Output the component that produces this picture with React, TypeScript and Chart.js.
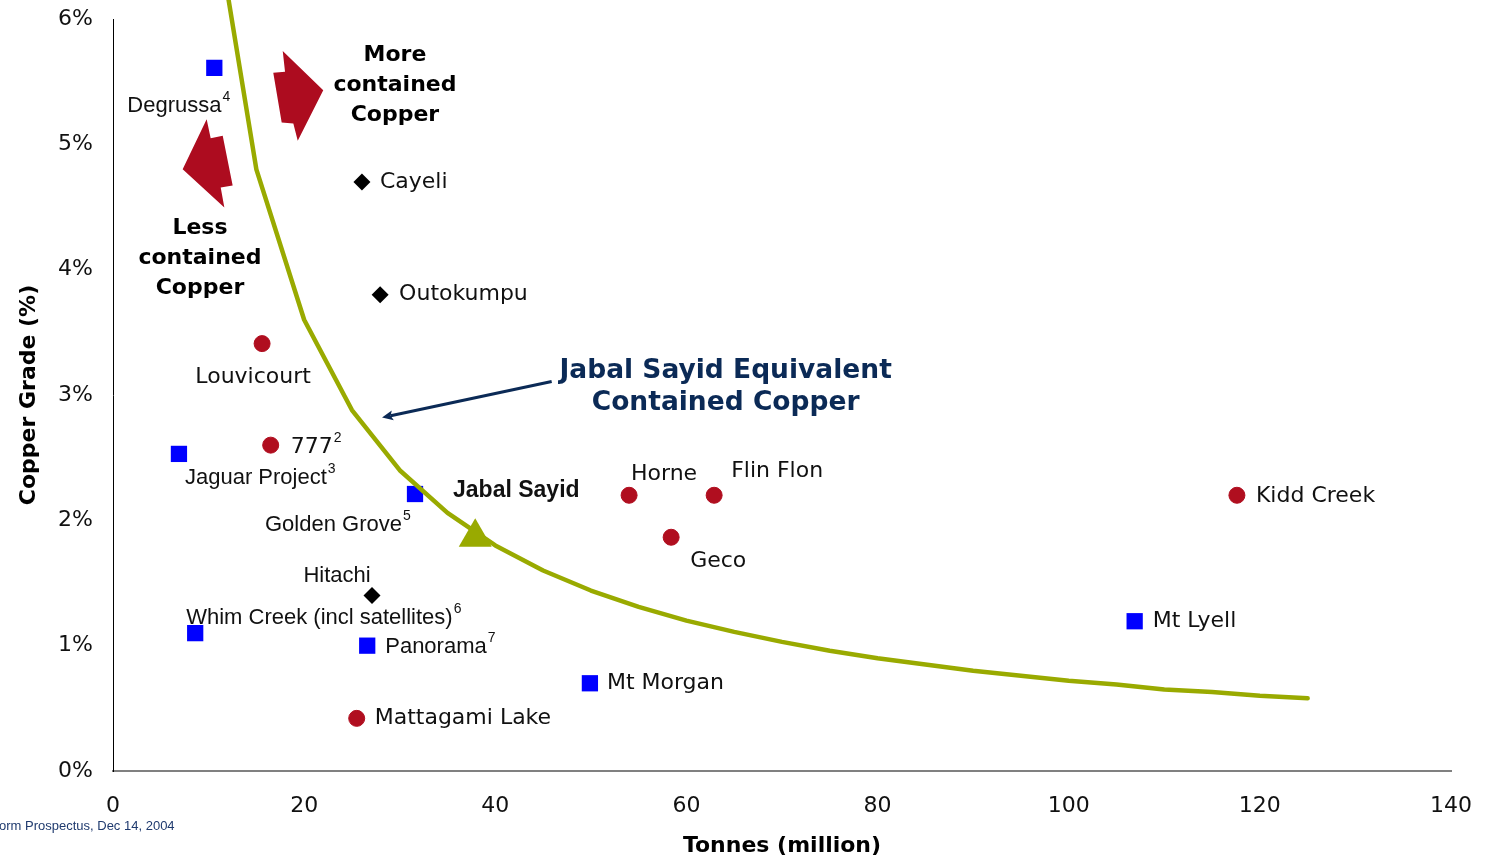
import React, { useEffect, useRef } from 'react';
import { Chart, registerables } from 'chart.js';

Chart.register(...registerables);

// ---------- data ----------
const squareNames = ['Degrussa', 'Jaguar Project', 'Jabal Sayid', 'Whim Creek (incl satellites)', 'Panorama', 'Mt Morgan', 'Mt Lyell'];
const squareTonnes = [10.6, 6.9, 31.6, 8.6, 26.6, 49.9, 106.9];
const squareGrade = [5.61, 2.53, 2.21, 1.10, 1.00, 0.70, 1.195];

const circleNames = ['Louvicourt', '777', 'Horne', 'Flin Flon', 'Geco', 'Kidd Creek', 'Mattagami Lake'];
const circleTonnes = [15.6, 16.5, 54.0, 62.9, 58.4, 117.6, 25.5];
const circleGrade = [3.41, 2.60, 2.20, 2.20, 1.865, 2.20, 0.42];

const diamondNames = ['Cayeli', 'Outokumpu', 'Hitachi'];
const diamondTonnes = [26.05, 27.95, 27.1];
const diamondGrade = [4.70, 3.80, 1.40];

// Jabal Sayid equivalent contained copper curve
const curveTonnes = [12.1, 15, 20, 25, 30, 35, 40, 45, 50, 55, 60, 65, 70, 75, 80, 85, 90, 95, 100, 105, 110, 115, 120, 125];
const curveGrade = [6.15, 4.8, 3.6, 2.88, 2.4, 2.06, 1.8, 1.6, 1.44, 1.31, 1.2, 1.11, 1.03, 0.96, 0.9, 0.85, 0.8, 0.76, 0.72, 0.69, 0.65, 0.63, 0.6, 0.58];

const markerTonnes = [37.9];
const markerGrade = [1.865];

const xTickValues = [0, 20, 40, 60, 80, 100, 120, 140];
const yTickValues = [0, 1, 2, 3, 4, 5, 6];

const xTitle = 'Tonnes (million)';
const yTitle = 'Copper Grade (%)';
const sourceText = 'orm Prospectus, Dec 14, 2004';

const moreText = ['More', 'contained', 'Copper'];
const lessText = ['Less', 'contained', 'Copper'];
const equivText = ['Jabal Sayid Equivalent', 'Contained Copper'];

// ---------- styles / layout ----------
const BLUE = '#0000ff';
const RED = '#b00e1f';
const ARROW_RED = '#ad0c1f';
const GREEN = '#99aa00';
const NAVY = '#0b2a56';
const DV = '"DejaVu Sans", Verdana, sans-serif';
const AR = '"Liberation Sans", Arial, sans-serif';

type Lbl = { text: string; at: string; dx: number; dy: number; align: 'left' | 'center'; font: string; sup?: string };
const labels: Lbl[] = [
  { text: 'Degrussa', at: 'Degrussa', dx: -87, dy: 38, align: 'left', font: `22px ${AR}`, sup: '4' },
  { text: 'Jaguar Project', at: 'Jaguar Project', dx: 6, dy: 24, align: 'left', font: `22px ${AR}`, sup: '3' },
  { text: 'Jabal Sayid', at: 'Jabal Sayid', dx: 38, dy: -3, align: 'left', font: `bold 23px ${AR}` },
  { text: 'Golden Grove', at: 'Jabal Sayid', dx: -150, dy: 31, align: 'left', font: `22px ${AR}`, sup: '5' },
  { text: 'Whim Creek (incl satellites)', at: 'Whim Creek (incl satellites)', dx: -9, dy: -15, align: 'left', font: `22px ${AR}`, sup: '6' },
  { text: 'Panorama', at: 'Panorama', dx: 18, dy: 1, align: 'left', font: `22px ${AR}`, sup: '7' },
  { text: 'Mt Morgan', at: 'Mt Morgan', dx: 17, dy: 0, align: 'left', font: `22px ${DV}` },
  { text: 'Mt Lyell', at: 'Mt Lyell', dx: 18, dy: 0, align: 'left', font: `22px ${DV}` },
  { text: 'Louvicourt', at: 'Louvicourt', dx: -9, dy: 34, align: 'center', font: `22px ${DV}` },
  { text: '777', at: '777', dx: 20, dy: 2, align: 'left', font: `22px ${DV}`, sup: '2' },
  { text: 'Horne', at: 'Horne', dx: 35, dy: -21, align: 'center', font: `22px ${DV}` },
  { text: 'Flin Flon', at: 'Flin Flon', dx: 17, dy: -24, align: 'left', font: `22px ${DV}` },
  { text: 'Geco', at: 'Geco', dx: 19, dy: 24, align: 'left', font: `22px ${DV}` },
  { text: 'Kidd Creek', at: 'Kidd Creek', dx: 19, dy: 1, align: 'left', font: `22px ${DV}` },
  { text: 'Mattagami Lake', at: 'Mattagami Lake', dx: 18, dy: 0, align: 'left', font: `22px ${DV}` },
  { text: 'Cayeli', at: 'Cayeli', dx: 18, dy: 0, align: 'left', font: `22px ${DV}` },
  { text: 'Outokumpu', at: 'Outokumpu', dx: 19, dy: 0, align: 'left', font: `22px ${DV}` },
  { text: 'Hitachi', at: 'Hitachi', dx: -35, dy: -20, align: 'center', font: `22px ${AR}` },
];

// block arrows, vertices in data space
const arrowRight: [number, number][] = [[17.76, 5.745], [18.0, 5.58], [16.77, 5.572], [17.65, 5.174], [18.87, 5.166], [19.33, 5.028], [22.0, 5.432]];
const arrowLeft: [number, number][] = [[9.8, 5.201], [10.22, 5.049], [11.48, 5.068], [12.52, 4.671], [11.27, 4.655], [11.65, 4.496], [7.29, 4.802]];
const pointerFrom: [number, number] = [45.9, 3.108];
const pointerTo: [number, number] = [28.15, 2.82];

function findPoint(name: string): [number, number] | null {
  let i = squareNames.indexOf(name);
  if (i >= 0) return [squareTonnes[i], squareGrade[i]];
  i = circleNames.indexOf(name);
  if (i >= 0) return [circleTonnes[i], circleGrade[i]];
  i = diamondNames.indexOf(name);
  if (i >= 0) return [diamondTonnes[i], diamondGrade[i]];
  return null;
}

const annotationPlugin = {
  id: 'annotations',
  afterDraw(chart: any) {
    const { ctx, scales } = chart;
    const xs = scales.x, ys = scales.y;
    const px = (v: number) => xs.getPixelForValue(v);
    const py = (v: number) => ys.getPixelForValue(v);
    ctx.save();
    ctx.textBaseline = 'middle';

    // point labels
    labels.forEach((l) => {
      const p = findPoint(l.at);
      if (!p) return;
      const x0 = px(p[0]) + l.dx;
      const y0 = py(p[1]) + l.dy;
      ctx.font = l.font;
      ctx.fillStyle = '#111';
      const w = ctx.measureText(l.text).width;
      let supW = 0;
      const supFont = `14px ${AR}`;
      if (l.sup) {
        ctx.font = supFont;
        supW = ctx.measureText(l.sup).width;
        ctx.font = l.font;
      }
      const left = l.align === 'center' ? x0 - (w + supW) / 2 : x0;
      ctx.textAlign = 'left';
      ctx.fillText(l.text, left, y0);
      if (l.sup) {
        ctx.font = supFont;
        ctx.fillText(l.sup, left + w + 1, y0 - 9);
      }
    });

    // multi-line notes
    const block = (lines: string[], cx: number, cy: number, font: string, color: string, lh: number) => {
      ctx.font = font;
      ctx.fillStyle = color;
      ctx.textAlign = 'center';
      const x = px(cx);
      const yc = py(cy);
      lines.forEach((t, i) => {
        ctx.fillText(t, x, yc + (i - (lines.length - 1) / 2) * lh);
      });
    };
    block(moreText, 29.5, 5.475, `bold 22px ${DV}`, '#000', 30);
    block(lessText, 9.1, 4.088, `bold 22px ${DV}`, '#000', 30);
    block(equivText, 64.1, 3.06, `bold 26.5px ${DV}`, NAVY, 32);

    // red block arrows
    const poly = (pts: [number, number][], color: string) => {
      ctx.beginPath();
      pts.forEach(([a, b], i) => {
        if (i === 0) ctx.moveTo(px(a), py(b));
        else ctx.lineTo(px(a), py(b));
      });
      ctx.closePath();
      ctx.fillStyle = color;
      ctx.fill();
    };
    poly(arrowRight, ARROW_RED);
    poly(arrowLeft, ARROW_RED);

    // navy pointer
    const x1 = px(pointerFrom[0]), y1 = py(pointerFrom[1]);
    const x2 = px(pointerTo[0]), y2 = py(pointerTo[1]);
    const ang = Math.atan2(y2 - y1, x2 - x1);
    const hl = 11, hw = 5;
    const bx = x2 - Math.cos(ang) * hl * 0.8, by = y2 - Math.sin(ang) * hl * 0.8;
    ctx.strokeStyle = NAVY;
    ctx.lineWidth = 3;
    ctx.beginPath();
    ctx.moveTo(x1, y1);
    ctx.lineTo(bx, by);
    ctx.stroke();
    ctx.beginPath();
    ctx.moveTo(x2, y2);
    ctx.lineTo(x2 - Math.cos(ang) * hl + Math.sin(ang) * hw, y2 - Math.sin(ang) * hl - Math.cos(ang) * hw);
    ctx.lineTo(bx, by);
    ctx.lineTo(x2 - Math.cos(ang) * hl - Math.sin(ang) * hw, y2 - Math.sin(ang) * hl + Math.cos(ang) * hw);
    ctx.closePath();
    ctx.fillStyle = NAVY;
    ctx.fill();

    // source note
    ctx.font = `13px ${AR}`;
    ctx.fillStyle = '#1f3a6e';
    ctx.textAlign = 'left';
    ctx.fillText(sourceText, -1, 826);

    ctx.restore();
  },
};

export default function App() {
  const ref = useRef<HTMLCanvasElement>(null);

  useEffect(() => {
    if (!ref.current) return;
    const toPts = (xs: number[], ys: number[]) => xs.map((x, i) => ({ x, y: ys[i] }));
    const chart = new Chart(ref.current, {
      type: 'scatter',
      data: {
        datasets: [
          {
            label: 'Equivalent',
            type: 'line',
            data: toPts(curveTonnes, curveGrade),
            borderColor: GREEN,
            borderWidth: 4.5,
            borderCapStyle: 'round',
            borderJoinStyle: 'round',
            pointRadius: 0,
            tension: 0,
            fill: false,
            clip: false,
          } as any,
          {
            label: 'Marker',
            data: toPts(markerTonnes, markerGrade),
            pointStyle: 'triangle',
            pointRadius: 19,
            backgroundColor: GREEN,
            borderColor: GREEN,
            borderWidth: 0,
          },
          {
            label: 'Squares',
            data: toPts(squareTonnes, squareGrade),
            pointStyle: 'rect',
            pointRadius: 11.5,
            backgroundColor: BLUE,
            borderColor: BLUE,
            borderWidth: 0,
          },
          {
            label: 'Circles',
            data: toPts(circleTonnes, circleGrade),
            pointStyle: 'circle',
            pointRadius: 8,
            backgroundColor: RED,
            borderColor: RED,
            borderWidth: 1,
          },
          {
            label: 'Diamonds',
            data: toPts(diamondTonnes, diamondGrade),
            pointStyle: 'rectRot',
            pointRadius: 8.5,
            backgroundColor: '#000',
            borderColor: '#000',
            borderWidth: 0,
          },
        ],
      },
      options: {
        animation: false,
        responsive: true,
        maintainAspectRatio: false,
        layout: { padding: { top: 18, right: 37, left: 0, bottom: 0 } },
        plugins: { legend: { display: false }, tooltip: { enabled: false } },
        scales: {
          x: {
            type: 'linear',
            min: 0,
            max: 140,
            afterBuildTicks: (s: any) => { s.ticks = xTickValues.map((v) => ({ value: v })); },
            afterFit: (s: any) => { s.height = 90; s.paddingLeft = 0; s.paddingRight = 0; },
            grid: { display: false, drawTicks: false },
            border: { display: true, color: '#808080', width: 2 },
            ticks: { padding: 22, color: '#111', font: { family: DV, size: 22 } },
            title: { display: true, text: xTitle, color: '#000', font: { family: DV, size: 22, weight: 'bold' }, padding: { top: 2, bottom: 2 } },
          },
          y: {
            type: 'linear',
            min: 0,
            max: 6,
            afterBuildTicks: (s: any) => { s.ticks = yTickValues.map((v) => ({ value: v })); },
            afterFit: (s: any) => { s.width = 113; s.paddingTop = 0; s.paddingBottom = 0; },
            grid: { display: false, drawTicks: false },
            border: { display: true, color: '#000', width: 1 },
            ticks: { padding: 20, color: '#111', font: { family: DV, size: 22 }, callback: (v: any) => `${v}%` },
            title: { display: true, text: yTitle, color: '#000', font: { family: DV, size: 22, weight: 'bold' }, padding: { top: 16, bottom: 4 } },
          },
        },
      },
      plugins: [annotationPlugin],
    });
    return () => chart.destroy();
  }, []);

  return (
    <div style={{ position: 'fixed', left: 0, top: 0, width: 1488, height: 861, background: '#fff' }}>
      <canvas ref={ref} />
    </div>
  );
}
